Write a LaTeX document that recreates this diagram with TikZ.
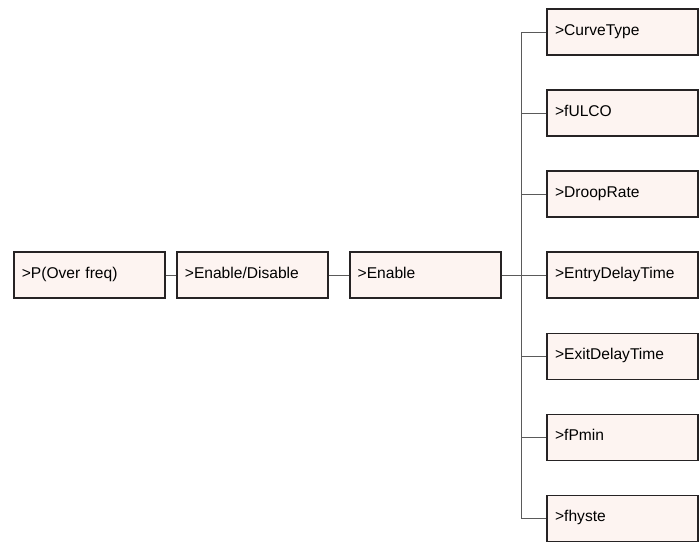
\documentclass[tikz,border=0pt]{standalone}
\usepackage{fontspec}
\setmainfont{Liberation Sans}
\usepackage{tikz}
\usetikzlibrary{positioning}
\definecolor{menufill}{HTML}{FDF4F1}
\definecolor{menuborder}{HTML}{262324}
\definecolor{linkgray}{HTML}{5A5A5A}

\begin{document}
\begin{tikzpicture}[node distance=1.0cm and 0.31cm,
    menu/.style={rectangle, draw=menuborder, fill=menufill, line width=1.5pt,
                 minimum height=1.38cm, minimum width=4.53cm, text width=4.05cm,
                 inner xsep=0.24cm, align=left, text height=0.72em, text depth=0.21em,
                 font=\fontsize{13.3}{15}\selectfont},
    link/.style={draw=linkgray, line width=0.8pt},
]
    \useasboundingbox (0,0) rectangle (20.97,16.26);

    % ── Menu path ──
    \node[menu] (overfreq) at (2.68,8.0) {>P(Over freq)};
    \node[menu, right=0.31cm of overfreq] (enabledis) {>Enable/Disable};
    \node[menu, right=0.6cm of enabledis] (enable) {>Enable};

    % ── Sub items ──
    \node[menu, right=1.34cm of enable] (entrydelay) {>EntryDelayTime};
    \node[menu, above=of entrydelay] (drooprate) {>DroopRate};
    \node[menu, above=of drooprate] (fulco) {>fULCO};
    \node[menu, above=of fulco] (curvetype) {>CurveType};
    \node[menu, below=of entrydelay] (exitdelay) {>ExitDelayTime};
    \node[menu, below=of exitdelay] (fpmin) {>fPmin};
    \node[menu, below=of fpmin] (fhyste) {>fhyste};

    \coordinate (spine) at ([xshift=-0.75cm]entrydelay.west);

    \draw[link] (overfreq) -- (enabledis);
    \draw[link] (enabledis) -- (enable);
    \draw[link] (enable) -- (entrydelay);
    \draw[link] (curvetype.west -| spine) -- (fhyste.west -| spine);
    \foreach \item in {curvetype, fulco, drooprate, exitdelay, fpmin, fhyste}
        \draw[link] (\item.west -| spine) -- (\item.west);

\end{tikzpicture}
\end{document}
